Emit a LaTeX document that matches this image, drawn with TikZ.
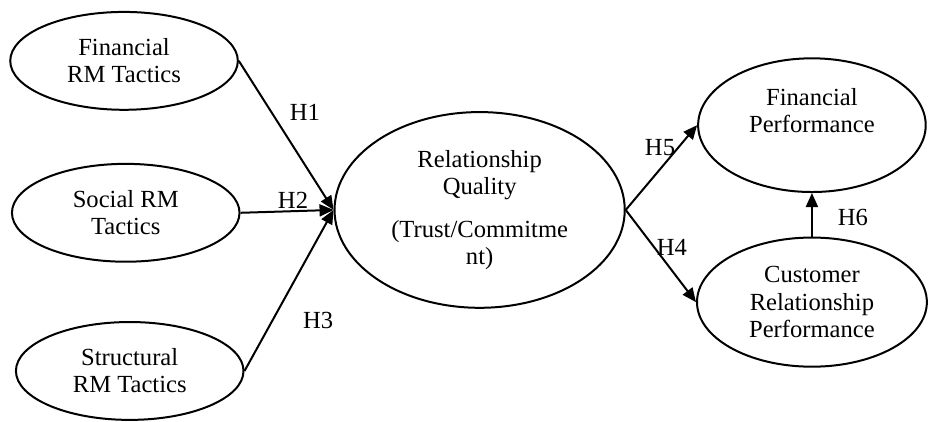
\documentclass[tikz,border=0pt]{standalone}
\usepackage{fontspec}
\setmainfont{Liberation Serif}
\usetikzlibrary{shapes.geometric,arrows.meta}
\tikzset{
  every node/.style={font=\rmfamily\fontsize{12.3}{13.6}\selectfont},
  construct/.style={
    ellipse,
    draw=black,
    line width=1pt,
    inner sep=0pt,
    align=center,
    fill=white
  },
  tactic/.style={construct,minimum width=4.0cm,minimum height=1.72cm},
  outcome/.style={construct,minimum width=4.0cm,minimum height=2.3cm},
  hypo/.style={draw=black,line width=1pt,-{Triangle[length=7pt,width=6pt]}},
  hlabel/.style={inner sep=1pt}
}

\begin{document}
\begin{tikzpicture}
  \useasboundingbox (0,0) rectangle (16.31,7.40);

  % Taticas de relacionamento (lado esquerdo).
  \node[tactic] (financeiro) at (2.18,6.33) {Financial\\RM Tactics};
  \node[tactic] (social) at (2.21,3.66) {Social RM\\Tactics};
  \node[tactic] (estrutural) at (2.28,0.88) {Structural\\RM Tactics};

  % Construto central.
  \node[construct,minimum width=5.10cm,minimum height=3.44cm] (qualidade) at (8.43,3.71)
    {Relationship\\Quality\\[8pt](Trust/Commitme\\nt)};

  % Resultados de desempenho.
  \node[outcome,minimum height=2.35cm,text depth=15pt] (desempenho) at (14.27,5.20)
    {Financial\\Performance};
  \node[outcome,minimum width=4.04cm,minimum height=2.27cm] (cliente) at (14.27,2.09)
    {Customer\\Relationship\\Performance};

  % Hipoteses.
  \foreach \src in {financeiro,social,estrutural}
    \draw[hypo] (\src.east) -- (qualidade.west);
  \draw[hypo] (qualidade.east) -- (desempenho.west);
  \draw[hypo] (qualidade.east) -- (cliente.west);
  \draw[hypo] (cliente.north) -- (desempenho.south);

  \node[hlabel] (h1) at (5.36,5.43) {H1};
  \node[hlabel] (h2) at (5.15,3.88) {H2};
  \node[hlabel] (h3) at (5.59,1.77) {H3};
  \node[hlabel] (h5) at (11.60,4.80) {H5};
  \node[hlabel] (h4) at (11.81,3.06) {H4};
  \node[hlabel] (h6) at (14.99,3.58) {H6};
\end{tikzpicture}
\end{document}
